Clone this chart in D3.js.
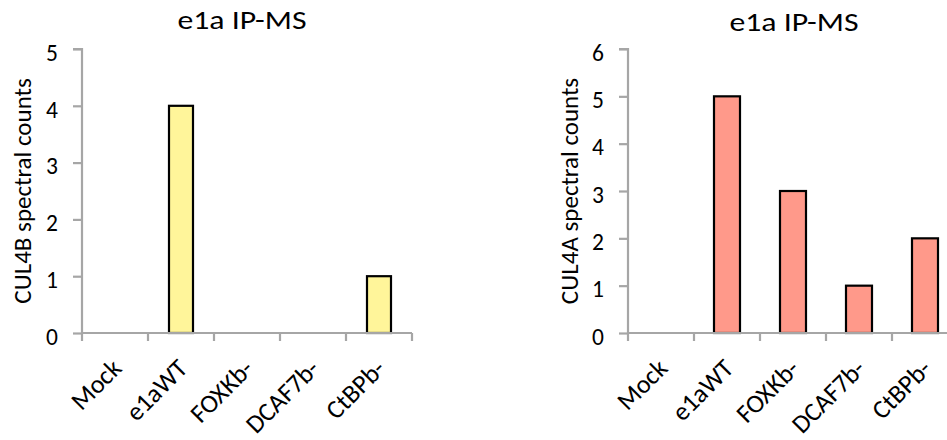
<!DOCTYPE html>
<html>
<head>
<meta charset="utf-8">
<script src="https://cdn.jsdelivr.net/npm/d3@7"></script>
<style>
  html, body { margin: 0; padding: 0; background: #fff; }
  svg { display: block; }
  text { font-family: Carlito, Lato, "Open Sans", sans-serif; fill: #000; }
</style>
</head>
<body>
<svg id="chart" width="947" height="440"></svg>
<script>
const categories = ["Mock", "e1aWT", "FOXKb-", "DCAF7b-", "CtBPb-"];
const cul4bValues = [0, 4, 0, 0, 1];
const cul4aValues = [0, 5, 3, 1, 2];
const cul4bTicks = [0, 1, 2, 3, 4, 5];
const cul4aTicks = [0, 1, 2, 3, 4, 5, 6];
const chartTitle = "e1a IP-MS";
const cul4bLabel = "CUL4B spectral counts";
const cul4aLabel = "CUL4A spectral counts";

const svg = d3.select("#chart");
const axisGray = "#a6a6a6";

function drawPanel(opts) {
  const g = svg.append("g");
  const xb = d3.scaleBand().domain(categories).range([opts.x0, opts.x1]);
  const y = d3.scaleLinear().domain([0, opts.ymax]).range([opts.yBottom, opts.yTop]);

  // bars
  g.selectAll("rect.bar").data(opts.values.map((v, i) => ({c: categories[i], v})).filter(d => d.v > 0))
    .enter().append("rect")
    .attr("x", d => xb(d.c) + xb.bandwidth() / 2 - opts.barW / 2)
    .attr("width", opts.barW)
    .attr("y", d => y(d.v))
    .attr("height", d => y(0) - y(d.v))
    .attr("fill", opts.color)
    .attr("stroke", "#000")
    .attr("stroke-width", 2.2);

  // y axis
  const yAxis = d3.axisLeft(y).tickValues(opts.ticks).tickSize(9).tickPadding(15).tickFormat(d3.format("d"));
  const ya = g.append("g").attr("transform", `translate(${opts.x0},0)`).call(yAxis);
  ya.select(".domain").attr("stroke", axisGray).attr("stroke-width", 2.2).attr("d", `M-9,${opts.yTop}H0V${opts.yBottom}`);
  ya.selectAll(".tick line").attr("stroke", axisGray).attr("stroke-width", 2.2);
  ya.selectAll(".tick text").style("font-size", "23.5px").attr("dy", "0.48em");

  // x axis with boundary ticks
  const boundaries = categories.map(c => xb(c)).concat([opts.x1]);
  const xg = g.append("g");
  xg.append("line").attr("x1", opts.x0).attr("x2", opts.x1).attr("y1", opts.yBottom).attr("y2", opts.yBottom)
    .attr("stroke", axisGray).attr("stroke-width", 2.2);
  xg.selectAll("line.tk").data(boundaries).enter().append("line")
    .attr("x1", d => d).attr("x2", d => d).attr("y1", opts.yBottom).attr("y2", opts.yBottom + 8)
    .attr("stroke", axisGray).attr("stroke-width", 2.2);
  xg.selectAll("text.xl").data(categories).enter().append("text")
    .attr("transform", d => `translate(${xb(d) + xb.bandwidth() / 2 + 8},${opts.yBottom + 37}) rotate(-45)`)
    .attr("text-anchor", "end")
    .style("font-size", "26px")
    .text(d => d);

  // title
  g.append("text").attr("x", opts.titleX).attr("y", opts.titleY).attr("text-anchor", "middle")
    .style("font-size", "26px")
    .attr("textLength", 129).attr("lengthAdjust", "spacingAndGlyphs")
    .text(chartTitle);

  // y label
  g.append("text").attr("transform", `translate(${opts.labelX},${(opts.yTop + opts.yBottom) / 2}) rotate(-90)`)
    .attr("text-anchor", "middle").attr("dy", "0.35em")
    .style("font-size", "25px").text(opts.label);
}

drawPanel({x0: 82, x1: 412, yTop: 49, yBottom: 333, ymax: 5, ticks: cul4bTicks, values: cul4bValues,
  color: "#fff59a", barW: 24, titleX: 242, titleY: 29, labelX: 22, label: cul4bLabel});
drawPanel({x0: 628, x1: 958, yTop: 49, yBottom: 333, ymax: 6, ticks: cul4aTicks, values: cul4aValues,
  color: "#ff998a", barW: 26, titleX: 794, titleY: 31, labelX: 569, label: cul4aLabel});
</script>
</body>
</html>
